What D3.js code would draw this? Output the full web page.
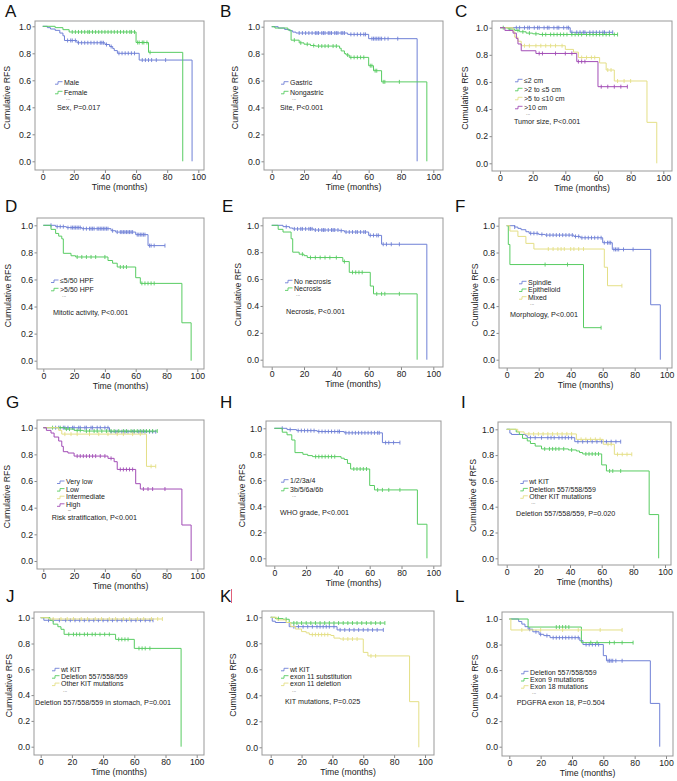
<!DOCTYPE html>
<html>
<head>
<meta charset="utf-8">
<script src="https://cdn.jsdelivr.net/npm/d3@7"></script>
<style>
  body { margin: 0; background: #fff; }
  svg { display: block; font-family: "Liberation Sans", Arial, sans-serif; }
</style>
</head>
<body>
<svg id="chart" width="677" height="781"></svg>
<script>
// step points are [time, survival after the event]; censor arrays are times (months)
var xTicks = [0, 20, 40, 60, 80, 100];
var yTicks = [0, 0.2, 0.4, 0.6, 0.8, 1.0];

// A - sex
var sexMale = [[0,1],[3,0.99],[5,0.98],[8,0.97],[11,0.95],[13,0.93],[14,0.895],[22,0.878],[40,0.865],[43,0.85],[45,0.835],[46,0.82],[48,0.80],[62,0.75],[96,0]];
var sexMaleCens = [16,18,19,21,23,25,27,29,31,33,35,37,38,39,41,44,49,51,53,55,57,59,64,66,68,70,73,79];
var sexFemale = [[0,1],[8,0.99],[13,0.975],[17,0.958],[60,0.88],[68,0.807],[90,0]];
var sexFemaleCens = [19,21,23,25,27,29,30,32,34,36,38,40,42,44,46,48,50,52,54,56,57,59,61,62,64,65,67,69];

// B - site
var siteGastric = [[0,1],[4,0.99],[8,0.98],[11,0.97],[13,0.96],[15,0.953],[47,0.943],[60,0.911],[90,0]];
var siteGastricCens = [17,19,21,23,25,27,28,29,31,32,33,35,36,37,39,40,41,43,44,45,49,51,53,55,57,58,62,63,64,65,66,67,68,70,72,78];
var siteNon = [[0,1],[2,0.99],[10,0.975],[12,0.9],[17,0.88],[20,0.87],[24,0.86],[27,0.856],[42,0.84],[43,0.82],[45,0.80],[46,0.79],[48,0.772],[60,0.71],[63,0.673],[68,0.59],[96,0]];
var siteNonCens = [14,18,22,26,29,31,33,35,38,40,47,49,51,53,55,57,61,62,64,65,69,70,79];

// C - tumor size
var size2 = [[0,1],[43,0.966]];
var size2Cens = [10,12,15,17,18,21,23,24,27,29,30,33,35,36,39,41,42,44,47,49,51,52,55,57,59,61,63,64,67,69];
var size5 = [[0,1],[5,0.99],[9,0.98],[12,0.97],[16,0.96],[20,0.955],[24,0.95]];
var size5Cens = [2,6,11,14,18,22,26,28,31,33,35,37,39,41,44,46,48,50,53,55,57,59,61,63,65,67,70,72];
var size10 = [[0,1],[8,0.97],[9,0.93],[11,0.9],[13,0.867],[40,0.84],[45,0.82],[48,0.78],[61,0.74],[65,0.688],[70,0.607],[90,0.302],[96,0]];
var size10Cens = [15,18,22,25,28,31,34,38,50,53,56,58,66,68,72,76,80];
var sizeBig = [[0,1],[3,0.98],[8,0.96],[10,0.92],[11,0.88],[13,0.83],[22,0.81],[47,0.75],[60,0.565]];
var sizeBigCens = [24,26,34,40,44,48,50,52,62,66,70,74,78];

// D - mitotic activity
var mitLow = [[0,1],[8,0.99],[15,0.983],[25,0.975],[44,0.96],[47,0.95],[60,0.931],[68,0.85]];
var mitLowCens = [5,9,11,13,16,18,19,20,21,22,23,24,26,28,30,31,32,33,35,36,37,38,39,40,41,42,45,48,50,51,52,53,54,55,56,57,58,61,62,63,64,65,66,69,70,72,79];
var mitHigh = [[0,1],[5,0.97],[8,0.94],[10,0.92],[12,0.90],[13,0.793],[18,0.775],[21,0.766],[42,0.74],[45,0.72],[48,0.692],[60,0.613],[63,0.571],[90,0.28],[96,0]];
var mitHighCens = [22,25,28,31,34,40,50,52,54,64,66,68,70,72];

// E - necrosis
var necNo = [[0,1],[7,0.99],[11,0.98],[13,0.973],[26,0.965],[42,0.96],[45,0.95],[60,0.925],[68,0.859],[96,0]];
var necNoCens = [9,14,16,18,19,21,23,24,25,27,29,31,32,33,35,37,38,39,41,43,46,48,50,52,53,55,57,58,61,63,65,66,69,71,74,79];
var necYes = [[0,1],[4,0.97],[7,0.95],[12,0.90],[13,0.80],[17,0.785],[20,0.774],[22,0.76],[44,0.73],[48,0.65],[61,0.548],[63,0.49],[90,0]];
var necYesCens = [19,24,27,30,33,36,40,45,50,52,54,56,65,68,70,79];

// F - morphology
var morSpindle = [[0,1],[5,0.99],[7,0.98],[9,0.97],[12,0.955],[14,0.943],[20,0.935],[24,0.93],[42,0.92],[46,0.91],[60,0.873],[66,0.823],[90,0.41],[96,0]];
var morSpindleCens = [5,15,17,19,22,25,27,29,31,33,35,37,39,41,43,45,47,49,51,53,55,57,59,61,63,64,65,67,68,69,70,73,79];
var morEpi = [[0,1],[1,0.86],[2,0.71],[48,0.239]];
var morEpiCens = [24,38,59];
var morMixed = [[0,1],[2,0.96],[7,0.92],[12,0.868],[17,0.826],[61,0.69],[63,0.552]];
var morMixedCens = [26,29,32,34,36,40,42,45,48,72];

// G - risk stratification
var riskVeryLow = [[0,1],[43,0.97]];
var riskVeryLowCens = [8,10,13,14,16,19,20,23,24,27,28,31,32,35,37,40,42,44,47,48,51,53,55,58,59,62,64,66,69,71,73];
var riskLow = [[0,1],[14,0.99],[20,0.98],[26,0.975]];
var riskLowCens = [6,11,15,17,22,24,28,30,33,35,38,41,44,46,49,52,54,57,59,61,63,65,67,69,71,74];
var riskInter = [[0,1],[10,0.98],[12,0.952],[67,0.71]];
var riskInterCens = [14,18,22,30,36,42,48,52,58,63,70,73];
var riskHigh = [[0,1],[2,0.98],[5,0.96],[7,0.93],[10,0.90],[12,0.86],[13,0.82],[16,0.81],[20,0.787],[42,0.77],[46,0.745],[48,0.687],[60,0.58],[63,0.54],[90,0.27],[96,0]];
var riskHighCens = [22,24,26,28,30,32,34,37,40,44,50,52,54,56,58,65,68,71,79];

// H - WHO grade
var whoLow = [[0,1],[8,0.99],[14,0.982],[27,0.975],[44,0.965],[68,0.89]];
var whoLowCens = [5,10,15,17,19,21,23,25,28,30,32,34,36,38,40,41,45,47,49,51,53,55,57,59,61,63,65,66,70,72,75,79];
var whoHigh = [[0,1],[5,0.97],[8,0.95],[11,0.91],[13,0.813],[18,0.80],[21,0.79],[24,0.782],[42,0.77],[44,0.76],[46,0.73],[48,0.687],[60,0.56],[63,0.526],[90,0.262],[96,0]];
var whoHighCens = [26,28,30,32,34,36,38,50,52,54,56,58,65,68,72,79];

// I - deletion 557/558/559
var delWt = [[0,1],[2,0.97],[3,0.96],[12,0.95],[13,0.935],[43,0.904]];
var delWtCens = [15,18,22,26,28,30,33,35,37,39,41,45,48,51,54,57,60,63,66,69,72];
var delDel = [[0,1],[6,0.98],[8,0.96],[10,0.93],[13,0.91],[15,0.89],[18,0.87],[22,0.848],[39,0.84],[44,0.832],[46,0.82],[48,0.809],[60,0.724],[63,0.677],[90,0.339],[96,0]];
var delDelCens = [24,27,29,31,33,36,41,50,52,54,56,58,65,67,72];
var delOther = [[0,1],[7,0.98],[11,0.964],[44,0.922],[61,0.884],[68,0.806]];
var delOtherCens = [14,17,20,23,26,29,32,35,38,41,47,50,53,56,59,64,66,70,73,76,79];

// J - deletion in stomach
var stWt = [[0,1],[2,0.98]];
var stWtCens = [5,8,12,16,19,22,25,28,31,34,37,40,43,46,49,52,55,58,61,64,67,70,72];
var stDel = [[0,1],[6,0.98],[8,0.95],[11,0.93],[13,0.91],[15,0.871],[48,0.832],[60,0.762],[90,0]];
var stDelCens = [18,21,23,25,28,30,33,35,38,41,44,50,52,54,56,63,65,67,70];
var stOther = [[0,1],[5,0.99]];
var stOtherCens = [8,13,17,21,26,30,35,39,44,48,53,57,62,66,71,75,78];

// K - KIT mutations
var kitWt = [[0,1],[1,0.97],[3,0.96],[12,0.928],[43,0.903]];
var kitWtCens = [15,18,21,24,27,30,32,34,36,38,41,45,48,51,54,57,60,63,66,69,73];
var kitSub = [[0,1],[3,0.99],[8,0.985],[12,0.96],[13,0.956]];
var kitSubCens = [5,10,15,17,20,23,26,29,32,35,38,41,44,47,50,53,56,59,62,65,68,71,74];
var kitDel = [[0,1],[4,0.98],[10,0.96],[13,0.93],[16,0.91],[20,0.89],[23,0.88],[25,0.867],[39,0.86],[41,0.84],[45,0.833],[60,0.73],[63,0.703],[90,0.351],[96,0]];
var kitDelCens = [27,29,31,33,35,37,47,50,53,56,65,68];

// L - PDGFRA exon 18
var pdDel = [[0,1],[6,0.98],[8,0.96],[10,0.94],[12,0.92],[15,0.90],[19,0.88],[22,0.87],[26,0.854],[45,0.83],[47,0.80],[60,0.713],[62,0.673],[90,0.339],[96,0]];
var pdDelCens = [13,17,20,24,28,30,32,34,36,38,40,42,44,49,51,53,55,57,63,64,65,66,68,72];
var pdEx9 = [[0,1],[12,0.937],[46,0.815]];
var pdEx9Cens = [30,32,34,36,38,52,56,64,67,72,79];
var pdEx18 = [[0,1],[1,0.914]];
var pdEx18Cens = [8,20,34,44,58,72];

var BLUE = "#6f80d6", GREEN = "#58cc62", YELLOW = "#e4df86", PURPLE = "#a24db6";

function s(label, steps, cens, color) {
    return {label: label, steps: steps, cens: cens, color: color};
}

var panels = [
    {id: "A", letter: [5, 17], box: [35, 21, 204, 170], xr: [42.7, 198.3], yr: [161.3, 26.3], leg: [29, 61.7, 9.6], ann: [22, 86.7], yt: -27.7,
     ytitle: "Cumulative RFS", note: "Sex, P=0.017",
     series: [s("Male", sexMale, sexMaleCens, BLUE), s("Female", sexFemale, sexFemaleCens, GREEN)]},
    {id: "B", letter: [220, 17], box: [264, 21, 443, 170], xr: [271.7, 433.3], yr: [161.3, 26.7], leg: [26, 61.7, 9.6], ann: [16, 86.7], yt: -29,
     ytitle: "Cumulative RFS", note: "Site, P<0.001",
     series: [s("Gastric", siteGastric, siteGastricCens, BLUE), s("Nongastric", siteNon, siteNonCens, GREEN)]},
    {id: "C", letter: [455, 17], box: [492, 21, 672, 171], xr: [500, 663.3], yr: [163.3, 27.7], leg: [32, 59.3, 9], ann: [22, 100.3], yt: -27,
     ytitle: "Cumulative RFS", note: "Tumor size, P<0.001",
     series: [s("\u22642 cm", size2, size2Cens, BLUE), s(">2 to \u22645 cm", size5, size5Cens, GREEN),
              s(">5 to \u226410 cm", size10, size10Cens, YELLOW), s(">10 cm", sizeBig, sizeBigCens, PURPLE)]},
    {id: "D", letter: [5, 212], box: [37, 218, 204, 369], xr: [43.3, 197.3], yr: [360.7, 225.3], leg: [23, 63, 8.3], ann: [16, 94.3], yt: -28.7,
     ytitle: "Cumulative RFS", note: "Mitotic activity, P<0.001",
     series: [s("\u22645/50 HPF", mitLow, mitLowCens, BLUE), s(">5/50 HPF", mitHigh, mitHighCens, GREEN)]},
    {id: "E", letter: [222, 212], box: [263, 218, 443, 367], xr: [271.7, 433.3], yr: [359.7, 225.3], leg: [31, 63.3, 7.6], ann: [23, 93.7], yt: -24.7,
     ytitle: "Cumulative RFS", note: "Necrosis, P<0.001",
     series: [s("No necrosis", necNo, necNoCens, BLUE), s("Necrosis", necYes, necYesCens, GREEN)]},
    {id: "F", letter: [455, 212], box: [499, 218, 672, 368], xr: [506.7, 666.7], yr: [359.7, 225.7], leg: [29, 64.3, 7.7], ann: [11, 96.3], yt: -24,
     ytitle: "Cumulative RFS", note: "Morphology, P<0.001",
     series: [s("Spindle", morSpindle, morSpindleCens, BLUE), s("Epithelioid", morEpi, morEpiCens, GREEN), s("Mixed", morMixed, morMixedCens, YELLOW)]},
    {id: "G", letter: [6, 408], box: [37, 420, 204, 569], xr: [43.3, 197.3], yr: [561, 427.7], leg: [29, 62, 7.6], ann: [14.7, 97.7], yt: -29.7,
     ytitle: "Cumulative RFS", note: "Risk stratification, P<0.001", dots: "\u2013",
     series: [s("Very low", riskVeryLow, riskVeryLowCens, BLUE), s("Low", riskLow, riskLowCens, GREEN),
              s("Intermediate", riskInter, riskInterCens, YELLOW), s("High", riskHigh, riskHighCens, PURPLE)]},
    {id: "H", letter: [220, 408], box: [266, 421, 441, 566], xr: [274.3, 433.3], yr: [558.3, 428.3], leg: [24, 59.7, 8.6], ann: [14, 91.3], yt: -24.3,
     ytitle: "Cumulative RFS", note: "WHO grade, P<0.001",
     series: [s("1/2/3a/4", whoLow, whoLowCens, BLUE), s("3b/5/6a/6b", whoHigh, whoHighCens, GREEN)]},
    {id: "I", letter: [461, 408], box: [498, 422, 671, 565], xr: [506.7, 665], yr: [558.3, 429.3], leg: [31.3, 60, 7.4], ann: [18, 91.3], yt: -24.7,
     ytitle: "Cumulative of RFS", note: "Deletion 557/558/559, P=0.020",
     series: [s("wt KIT", delWt, delWtCens, BLUE), s("Deletion 557/558/559", delDel, delDelCens, GREEN), s("Other KIT mutations", delOther, delOtherCens, YELLOW)]},
    {id: "J", letter: [6, 602], box: [34, 612, 204, 755], xr: [40.7, 196.7], yr: [746.7, 617.7], leg: [27, 57.3, 7.4], ann: [1, 90.7], yt: -24.7,
     ytitle: "Cumulative RFS", note: "Deletion 557/558/559 in stomach, P=0.001",
     series: [s("wt KIT", stWt, stWtCens, BLUE), s("Deletion 557/558/559", stDel, stDelCens, GREEN), s("Other KIT mutations", stOther, stOtherCens, YELLOW)]},
    {id: "K", letter: [220, 602], box: [262, 611, 434, 755], xr: [270.7, 425], yr: [747.3, 617.3], leg: [28, 58.3, 7.4], ann: [23, 90.7], yt: -28.7,
     ytitle: "Cumulative RFS", note: "KIT mutations, P=0.025",
     series: [s("wt KIT", kitWt, kitWtCens, BLUE), s("exon 11 substitution", kitSub, kitSubCens, GREEN), s("exon 11 deletion", kitDel, kitDelCens, YELLOW)]},
    {id: "L", letter: [455, 602], box: [502, 612, 673, 756], xr: [509.3, 666], yr: [746.7, 619], leg: [28, 60.3, 7.2], ann: [14.7, 91], yt: -27,
     ytitle: "Cumulative RFS", note: "PDGFRA exon 18, P=0.504",
     series: [s("Deletion 557/558/559", pdDel, pdDelCens, BLUE), s("Exon 9 mutations", pdEx9, pdEx9Cens, GREEN), s("Exon 18 mutations", pdEx18, pdEx18Cens, YELLOW)]}
];

var svg = d3.select("#chart");
var FONT = "'Liberation Sans', Arial, sans-serif";

function survAt(steps, t) {
    var v = steps[0][1];
    for (var i = 0; i < steps.length; i++) {
        if (steps[i][0] <= t) v = steps[i][1];
    }
    return v;
}

function drawPanel(p) {
    var g = svg.append("g").attr("class", "panel-" + p.id);
    var b = p.box;
    var x = d3.scaleLinear().domain([0, 100]).range(p.xr);
    var y = d3.scaleLinear().domain([0, 1]).range(p.yr);

    g.append("text").attr("x", p.letter[0]).attr("y", p.letter[1])
        .attr("font-size", 17).attr("fill", "#111").text(p.id);

    var xa = g.append("g").attr("transform", "translate(0," + b[3] + ")")
        .call(d3.axisBottom(x).tickValues(xTicks).tickSize(3).tickPadding(0.5).tickSizeOuter(0));
    var ya = g.append("g").attr("transform", "translate(" + b[0] + ",0)")
        .call(d3.axisLeft(y).tickValues(yTicks).tickFormat(d3.format(".1f")).tickSize(2.5).tickPadding(1.5).tickSizeOuter(0));
    [xa, ya].forEach(function (a) {
        a.select(".domain").remove();
        a.attr("font-family", FONT).attr("font-size", 8.7);
        a.selectAll("line").attr("stroke", "#888");
        a.selectAll("text").attr("fill", "#222");
    });

    g.append("rect").attr("x", b[0]).attr("y", b[1]).attr("width", b[2] - b[0]).attr("height", b[3] - b[1])
        .attr("fill", "none").attr("stroke", "#999").attr("stroke-width", 1);

    g.append("text").attr("x", (b[0] + b[2]) / 2).attr("y", b[3] + 19.5)
        .attr("text-anchor", "middle").attr("font-size", 8.7).attr("fill", "#222").text("Time (months)");
    var cy = (b[1] + b[3]) / 2 + 2;
    g.append("text").attr("transform", "translate(" + (b[0] + p.yt + 3) + "," + cy + ") rotate(-90)")
        .attr("text-anchor", "middle").attr("font-size", 8.7).attr("fill", "#222").text(p.ytitle);

    var line = d3.line().x(function (d) { return x(d[0]); }).y(function (d) { return y(d[1]); }).curve(d3.curveStepAfter);

    p.series.forEach(function (sr) {
        var pts = sr.steps.slice();
        var last = pts[pts.length - 1];
        var end = d3.max(sr.cens) || 0;
        if (last[1] > 0 && end > last[0]) pts.push([end, last[1]]);
        g.append("path").attr("d", line(pts)).attr("fill", "none")
            .attr("stroke", sr.color).attr("stroke-width", 1);
        g.selectAll(null).data(sr.cens).enter().append("line")
            .attr("x1", function (t) { return x(t); }).attr("x2", function (t) { return x(t); })
            .attr("y1", function (t) { return y(survAt(sr.steps, t)) - 2; })
            .attr("y2", function (t) { return y(survAt(sr.steps, t)) + 2; })
            .attr("stroke", sr.color).attr("stroke-width", 0.9);
    });

    // legend rows, then the small dots row and the test note
    var lx = b[0] + p.leg[0], ly = b[1] + p.leg[1];
    p.series.forEach(function (sr, i) {
        var yy = ly + i * p.leg[2];
        g.append("path").attr("d", "M" + (lx - 9) + "," + (yy + 1.5) + "h3v-2.5h4.5")
            .attr("fill", "none").attr("stroke", sr.color).attr("stroke-width", 0.9);
        g.append("text").attr("x", lx).attr("y", yy).attr("dy", "0.32em")
            .attr("font-size", 7).attr("fill", "#222").text(sr.label);
    });
    g.append("text").attr("x", lx + 2).attr("y", ly + (p.series.length - 1) * p.leg[2] + 7.5)
        .attr("font-size", 5).attr("fill", "#555").text(p.dots || "...");
    g.append("text").attr("x", b[0] + p.ann[0]).attr("y", b[1] + p.ann[1]).attr("dy", "0.32em")
        .attr("font-size", 7.2).attr("fill", "#222").text(p.note);
}

panels.forEach(drawPanel);

// small red mark beside panel K
svg.append("line").attr("x1", 231.5).attr("x2", 231.5).attr("y1", 589).attr("y2", 603)
    .attr("stroke", "#e0607a").attr("stroke-width", 1);
</script>
</body>
</html>
